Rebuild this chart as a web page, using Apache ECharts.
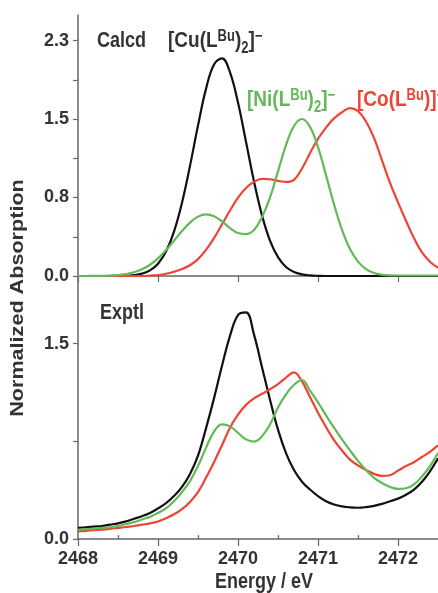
<!DOCTYPE html>
<html>
<head>
<meta charset="utf-8">
<script src="https://cdn.jsdelivr.net/npm/echarts@6/dist/echarts.min.js"></script>
<style>
  html, body { margin: 0; padding: 0; background: #fff; }
  #chart { width: 438px; height: 593px; }
</style>
</head>
<body>
<div id="chart"></div>
<script>
// energy grid, eV
let energy = [2468.0,2468.1,2468.2,2468.3,2468.4,2468.5,2468.6,2468.7,2468.8,2468.9,
              2469.0,2469.1,2469.2,2469.3,2469.4,2469.5,2469.6,2469.7,2469.8,2469.9,
              2470.0,2470.1,2470.2,2470.3,2470.4,2470.5,2470.6,2470.7,2470.8,2470.9,
              2471.0,2471.1,2471.2,2471.3,2471.4,2471.5,2471.6,2471.7,2471.8,2471.9,
              2472.0,2472.1,2472.2,2472.3,2472.4,2472.5];

// calculated spectra (top panel)
let calcdCu = [0,0,0,0,0,0.001,0.002,0.008,0.023,0.055,
               0.120,0.239,0.434,0.716,1.076,1.470,1.828,2.067,2.126,1.990,
               1.694,1.311,0.924,0.592,0.345,0.184,0.088,0.039,0.016,0.006,
               0.002,0,0,0,0,0,0,0,0,0,
               0,0,0,0,0,0];
let calcdNi = [0,0,0.001,0.002,0.005,0.009,0.019,0.036,0.065,0.110,
               0.172,0.252,0.345,0.439,0.522,0.580,0.602,0.584,0.534,0.468,
               0.420,0.410,0.450,0.575,0.766,1.022,1.278,1.466,1.534,1.457,
               1.259,0.986,0.701,0.451,0.264,0.140,0.067,0.029,0.012,0.006,
               0.005,0.005,0.005,0.005,0.005,0.005];
let calcdCo = [0,0,0,0,0,0,0,0,0,0.004,
               0.010,0.022,0.042,0.068,0.105,0.165,0.255,0.370,0.505,0.640,
               0.765,0.860,0.920,0.948,0.945,0.930,0.920,0.940,1.050,1.200,
               1.340,1.450,1.540,1.600,1.640,1.610,1.510,1.350,1.130,0.910,
               0.720,0.540,0.370,0.230,0.140,0.080];

// experimental spectra (bottom panel)
let exptlCu = [0.085,0.090,0.095,0.100,0.110,0.120,0.135,0.155,0.175,0.200,
               0.235,0.275,0.330,0.400,0.500,0.640,0.850,1.080,1.330,1.560,
               1.720,1.740,1.570,1.320,1.070,0.840,0.660,0.530,0.440,0.380,
               0.330,0.290,0.265,0.250,0.243,0.240,0.245,0.255,0.270,0.290,
               0.310,0.340,0.380,0.440,0.520,0.620];
let exptlNi = [0.070,0.075,0.080,0.085,0.090,0.100,0.115,0.130,0.150,0.170,
               0.200,0.235,0.290,0.360,0.445,0.560,0.700,0.825,0.880,0.865,
               0.815,0.765,0.748,0.790,0.880,1.010,1.110,1.185,1.220,1.140,
               1.050,0.950,0.855,0.765,0.680,0.600,0.530,0.470,0.430,0.400,
               0.385,0.390,0.420,0.480,0.560,0.660];
let exptlCo = [0.060,0.063,0.067,0.072,0.078,0.085,0.092,0.100,0.110,0.120,
               0.135,0.160,0.190,0.230,0.285,0.360,0.470,0.590,0.720,0.855,
               0.955,1.030,1.080,1.115,1.150,1.190,1.240,1.280,1.210,1.090,
               0.970,0.860,0.760,0.680,0.610,0.565,0.530,0.500,0.485,0.490,
               0.525,0.560,0.590,0.630,0.670,0.720];

// axis ticks
let xMajor = [2468, 2469, 2470, 2471, 2472];
let xMinor = [2468.5, 2469.5, 2470.5, 2471.5];
let topTicks = [0, 2.3/6, 2.3/3, 2.3/2, 2*2.3/3, 5*2.3/6, 2.3];
let topLabels = [0, 2.3/3, 2*2.3/3, 2.3];
let botTicks = [0, 0.75, 1.5];
let botLabels = [0, 1.5];

let FONT = 'Liberation Sans, Arial, sans-serif';
let TXT = '#333';
let BLACK = '#111';
let GREEN = '#63b957';
let RED = '#ec4535';
let axisColor = '#666';

let pairs = (ys) => energy.map((e, i) => [e, ys[i]]);

let rich = (color) => ({
    m: {fontSize: 19, fontWeight: 'bold', fontFamily: FONT, fill: color, lineHeight: 26, verticalAlign: 'middle'},
    u: {fontSize: 13, fontWeight: 'bold', fontFamily: FONT, fill: color, lineHeight: 13, verticalAlign: 'top', padding: [3, 0, 0, 0]},
    d: {fontSize: 13, fontWeight: 'bold', fontFamily: FONT, fill: color, lineHeight: 13, verticalAlign: 'bottom'}
});

let label = (x, y, text, color, extra) => Object.assign({
    type: 'text', x: x, y: y, scaleY: 1.2,
    style: {text: text, fill: color, font: 'bold 18px ' + FONT, verticalAlign: 'middle', rich: rich(color)}
}, extra || {});

let yAxisBase = (grid, max, ticks, labels) => ({
    type: 'value', gridIndex: grid, min: 0, max: max,
    axisLine: {show: true, lineStyle: {color: axisColor, width: 1.5}},
    axisTick: {show: true, length: 5, customValues: ticks, lineStyle: {color: axisColor, width: 1.2}},
    axisLabel: {customValues: labels, formatter: (v) => v.toFixed(1), fontSize: 18, fontWeight: 'bold',
                fontFamily: FONT, color: TXT, margin: 9},
    splitLine: {show: false}
});

let xAxisBase = (grid) => ({
    type: 'value', gridIndex: grid, min: 2468, max: 2472.5,
    axisLine: {show: true, onZero: false, lineStyle: {color: axisColor, width: 1.5}},
    axisTick: {show: true, length: 6, customValues: xMajor, lineStyle: {color: axisColor, width: 1.2}},
    axisLabel: {show: false},
    splitLine: {show: false}
});

let line = (name, xi, yi, ys, color) => ({
    name: name, type: 'line', xAxisIndex: xi, yAxisIndex: yi,
    data: pairs(ys), smooth: 0.4, showSymbol: false, symbol: 'none',
    lineStyle: {color: color, width: 2.2}, z: 3
});

let chart = echarts.init(document.getElementById('chart'), null, {renderer: 'canvas'});

let xBottom = xAxisBase(1);
xBottom.axisTick.length = 7;
xBottom.axisLabel = {show: true, customValues: xMajor, formatter: (v) => String(v), fontSize: 18,
                     fontWeight: 'bold', fontFamily: FONT, color: TXT, margin: 11};

let xBottomMinor = xAxisBase(1);
xBottomMinor.position = 'bottom';
xBottomMinor.axisLine = {show: false};
xBottomMinor.axisTick = {show: true, inside: true, length: 4, customValues: xMinor,
                         lineStyle: {color: axisColor, width: 1.2}};

let option = {
    animation: false,
    backgroundColor: '#fff',
    grid: [
        {left: 78, right: 0, top: 15, height: 261},
        {left: 78, right: 0, top: 276, height: 263}
    ],
    xAxis: [xAxisBase(0), xBottom, xBottomMinor],
    yAxis: [yAxisBase(0, 2.55, topTicks, topLabels), yAxisBase(1, 2.02, botTicks, botLabels)],
    series: [
        line('Cu calcd', 0, 0, calcdCu, BLACK),
        line('Co calcd', 0, 0, calcdCo, RED),
        line('Ni calcd', 0, 0, calcdNi, GREEN),
        line('Cu exptl', 1, 1, exptlCu, BLACK),
        line('Co exptl', 1, 1, exptlCo, RED),
        line('Ni exptl', 1, 1, exptlNi, GREEN)
    ],
    graphic: [
        label(97, 41, 'Calcd', TXT),
        label(168, 41, '{m|[Cu(L}{u|Bu}{m|)}{d|2}{m|]}{u|−}', TXT),
        label(247, 100, '{m|[Ni(L}{u|Bu}{m|)}{d|2}{m|]}{u|−}', GREEN),
        label(357, 100, '{m|[Co(L}{u|Bu}{m|)]}{u|−}', RED),
        label(100, 313, 'Exptl', TXT),
        {
            type: 'text', x: 18, y: 298, rotation: Math.PI / 2, scaleX: 1.2,
            style: {text: 'Normalized Absorption', font: 'bold 18px ' + FONT, fill: TXT,
                    align: 'center', verticalAlign: 'middle'}
        },
        {
            type: 'text', x: 264, y: 582, scaleY: 1.2,
            style: {text: 'Energy / eV', font: 'bold 18px ' + FONT, fill: TXT,
                    align: 'center', verticalAlign: 'middle'}
        }
    ]
};

chart.setOption(option);
</script>
</body>
</html>
